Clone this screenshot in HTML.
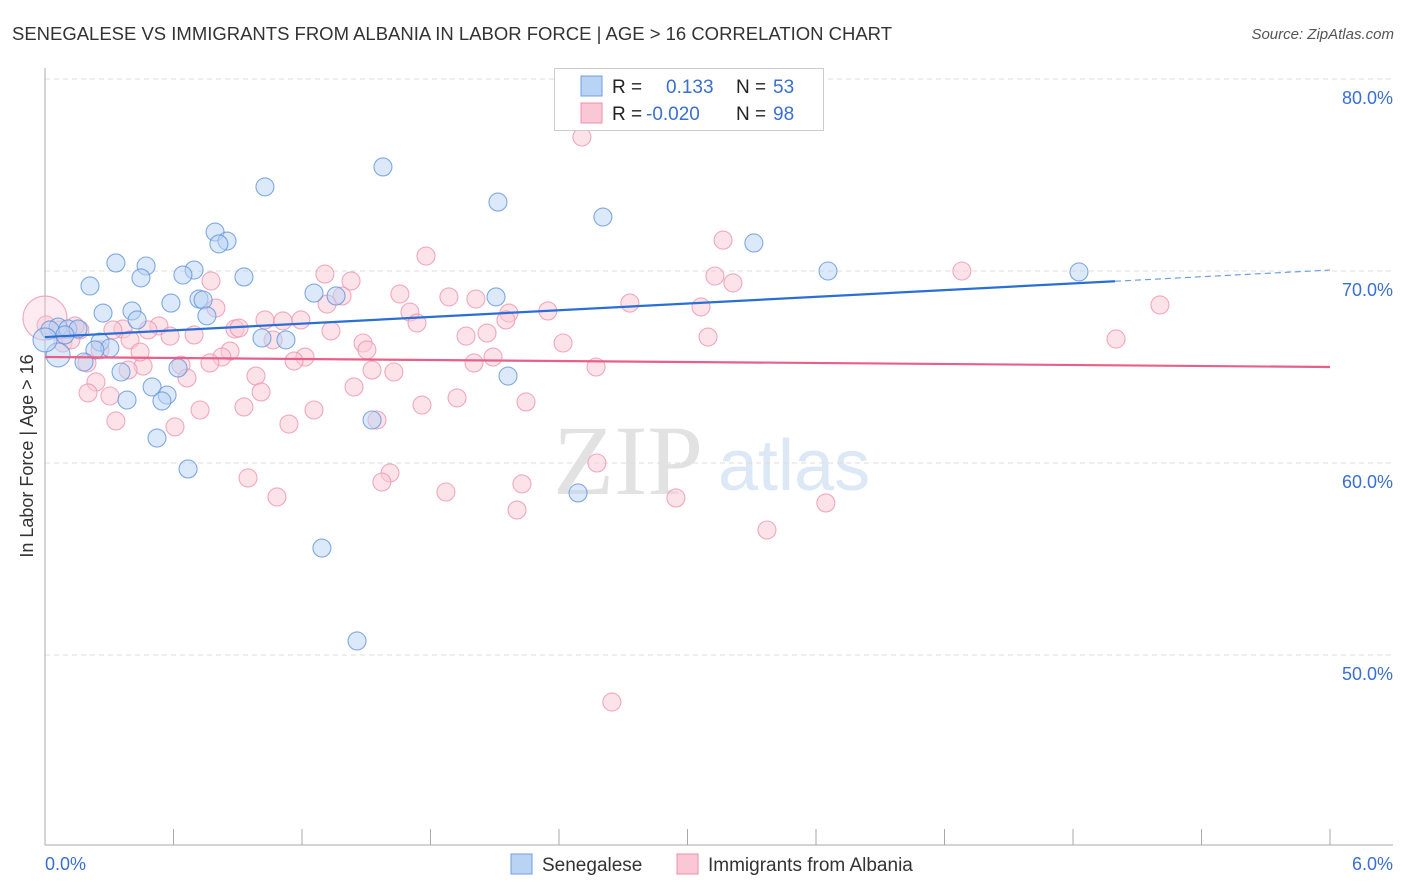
<!DOCTYPE html>
<html><head><meta charset="utf-8"><style>
body{margin:0;background:#fff;font-family:"Liberation Sans",sans-serif;}
#wrap{position:relative;width:1406px;height:892px;overflow:hidden;}
</style></head><body>
<div id="wrap">
<svg id="chart" width="1406" height="892" xmlns="http://www.w3.org/2000/svg">
<text x="12" y="40" font-size="18" fill="#333" textLength="880" lengthAdjust="spacingAndGlyphs">SENEGALESE VS IMMIGRANTS FROM ALBANIA IN LABOR FORCE | AGE &gt; 16 CORRELATION CHART</text>
<text x="1394" y="39" font-size="15" fill="#555" font-style="italic" text-anchor="end">Source: ZipAtlas.com</text>
<g>
<text x="553" y="494" font-family="Liberation Serif,serif" font-size="100" fill="#e2e2e2">ZIP</text>
<text x="718" y="490" font-size="72" fill="#dce8f6">atlas</text>
</g>
<g id="grid"></g><g id="axes"></g><g id="pts"></g><g id="trend"></g>
<text transform="translate(33,456) rotate(-90)" font-size="18" fill="#333" text-anchor="middle">In Labor Force | Age &gt; 16</text>
<text x="45" y="870" font-size="18" fill="#3a6fd0">0.0%</text>
<text x="1393" y="870" font-size="18" fill="#3a6fd0" text-anchor="end">6.0%</text>
<g>
<rect x="554.5" y="68.5" width="269" height="62" fill="#fff" stroke="#ccc"/>
<rect x="581" y="76" width="21" height="20" fill="#b9d3f5" stroke="#6f9ee0"/>
<rect x="581" y="103" width="21" height="20" fill="#f9c7d6" stroke="#ec8fab"/>
<text x="612" y="93" font-size="19" fill="#222">R = </text><text x="666" y="93" font-size="19" fill="#3a6fd0">0.133</text>
<text x="736" y="93" font-size="19" fill="#222">N = </text><text x="773" y="93" font-size="19" fill="#3a6fd0">53</text>
<text x="612" y="120" font-size="19" fill="#222">R = </text><text x="646" y="120" font-size="19" fill="#3a6fd0">-0.020</text>
<text x="736" y="120" font-size="19" fill="#222">N = </text><text x="773" y="120" font-size="19" fill="#3a6fd0">98</text>
</g>
<g>
<rect x="511" y="854" width="21" height="20" fill="#b9d3f5" stroke="#6f9ee0"/>
<text x="542" y="871" font-size="19" fill="#333">Senegalese</text>
<rect x="677" y="854" width="21" height="20" fill="#f9c7d6" stroke="#ec8fab"/>
<text x="708" y="871" font-size="19" fill="#333">Immigrants from Albania</text>
</g>
</svg>
</div>
<script>
const yTicks=[80,70,60,50];
const yTickLabels=["80.0%","70.0%","60.0%","50.0%"];
const xTicks=[0,0.6,1.2,1.8,2.4,3.0,3.6,4.2,4.8,5.4,6.0];
const senX=[1.578,1.027,2.115,2.605,0.794,0.850,0.812,3.310,0.331,0.472,0.696,0.644,0.929,3.656,4.828,0.448,0.210,1.256,2.106,1.359,0.588,0.719,0.738,0.406,0.271,0.756,0.430,0.061,0.107,0.154,1.013,1.125,0.257,0.303,0.233,0.061,0.182,0.621,0.355,0.500,0.570,0.383,0.546,2.162,1.527,0.523,0.668,2.489,1.293,1.457,0.023,0.093,0.0];
const senY=[75.42,74.38,73.59,72.81,72.03,71.56,71.41,71.46,70.42,70.26,70.05,69.79,69.69,70.00,69.95,69.64,69.22,68.85,68.65,68.70,68.33,68.54,68.49,67.92,67.81,67.66,67.45,67.08,66.98,66.98,66.51,66.41,66.30,65.99,65.89,65.63,65.26,64.95,64.74,63.96,63.54,63.28,63.23,64.53,62.24,61.30,59.69,58.44,55.57,50.73,66.93,66.67,66.41];
const albX=[2.507,1.779,3.166,4.281,1.307,1.429,3.128,3.212,0.775,5.206,1.657,1.886,2.012,2.731,2.348,3.063,1.387,1.317,0.798,1.704,1.737,2.166,2.152,2.064,1.966,1.195,1.027,1.111,0.887,0.906,0.532,0.364,0.481,0.584,0.696,0.397,1.485,1.335,1.065,1.503,2.419,3.096,5.001,0.864,0.826,1.214,1.163,2.092,2.003,0.635,0.770,0.458,0.388,0.196,0.084,0.005,0.163,0.121,1.527,1.629,0.663,0.985,0.238,0.303,0.201,1.009,1.443,1.924,2.246,1.760,0.929,0.724,1.256,0.607,0.331,1.139,1.550,2.573,2.577,1.611,1.573,0.948,2.227,1.872,1.083,2.946,2.204,3.646,3.371,2.647,0.070,0.140,0.0,0.257,0.317,0.444];
const albY=[76.98,70.78,71.61,70.0,69.84,69.48,69.74,69.38,69.48,68.23,68.80,68.65,68.54,68.33,67.92,68.13,68.70,68.28,68.07,67.86,67.29,67.81,67.45,66.77,66.61,67.45,67.45,67.40,66.98,67.03,67.14,66.98,66.93,66.61,66.67,66.41,66.25,66.88,66.41,65.89,66.25,66.56,66.46,65.83,65.52,65.52,65.31,65.52,65.21,65.10,65.21,65.05,64.84,65.21,66.25,67.19,66.93,66.41,64.84,64.74,64.43,64.53,64.22,63.49,63.65,63.70,63.96,63.39,63.18,63.02,62.92,62.76,62.76,61.88,62.19,62.03,62.24,65.0,60.0,59.48,59.01,59.22,58.91,58.49,58.23,58.18,57.55,57.92,56.51,47.55,66.93,67.14,67.55,65.89,66.93,65.78];
const senTrend=[66.56,70.05];
const albTrend=[65.52,65.0];
const NS="http://www.w3.org/2000/svg";
const X0=45,X1=1330,Y80=79,PPU=19.2;
const sx=v=>X0+v/6*(X1-X0);
const sy=v=>Y80+(80-v)*PPU;
function mk(t,a,p){const e=document.createElementNS(NS,t);for(const k in a)e.setAttribute(k,a[k]);p.appendChild(e);return e;}
const grid=document.getElementById('grid'),axes=document.getElementById('axes'),pts=document.getElementById('pts'),trend=document.getElementById('trend');
yTicks.forEach((v,i)=>{
 const l=mk('line',{x1:X0,x2:1393,y1:sy(v),y2:sy(v),stroke:'#ddd','stroke-dasharray':'5,4'},grid);
 
 
 const t=mk('text',{x:1393,y:sy(v)+25,'font-size':18,fill:'#3a6fd0','text-anchor':'end'},grid);
 t.textContent=yTickLabels[i];
 
 
});
const ya=mk('line',{x1:X0,x2:X0,y1:68,y2:845,stroke:'#aaa'},axes);


const xa=mk('line',{x1:X0,x2:1393,y1:845,y2:845,stroke:'#aaa'},axes);


xTicks.forEach(v=>{
 const t=mk('line',{x1:sx(v),x2:sx(v),y1:829,y2:845,stroke:'#aaa'},axes);
 
 
});
function dot(x,y,r,fill,stroke,name,op){
 const c=mk('circle',{cx:sx(x),cy:sy(y),r:r,fill:fill,'fill-opacity':op,stroke:stroke,'stroke-opacity':0.75,'stroke-width':1.1},pts);
 
 
}
albX.forEach((x,i)=>dot(x,albY[i],i===92?22:9,'#f9c7d6','#ec8fab','point-albania',i===92?0.35:0.5));
senX.forEach((x,i)=>dot(x,senY[i],(i===35||i===52)?12:9,'#b9d3f5','#5b8fdb','point-senegalese',0.5));
const xs=4.996;
const b1=mk('line',{x1:sx(0),y1:sy(senTrend[0]),x2:sx(xs),y2:sy(senTrend[0]+(senTrend[1]-senTrend[0])*xs/6),stroke:'#2a6fd6','stroke-width':2.2},trend);


const b2=mk('line',{x1:sx(xs),y1:sy(senTrend[0]+(senTrend[1]-senTrend[0])*xs/6),x2:sx(6),y2:sy(senTrend[1]),stroke:'#6f9ee0','stroke-width':1.2,'stroke-dasharray':'6,4'},trend);


const p1=mk('line',{x1:sx(0),y1:sy(albTrend[0]),x2:sx(6),y2:sy(albTrend[1]),stroke:'#e8608a','stroke-width':2.2},trend);


</script>
</body></html>
